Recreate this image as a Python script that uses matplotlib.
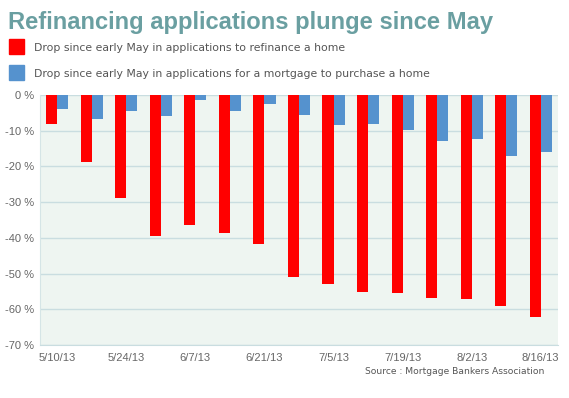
import matplotlib
matplotlib.use("Agg")
import matplotlib.pyplot as plt
import numpy as np

dates = ["5/10/13", "5/17/13", "5/24/13", "5/31/13", "6/7/13", "6/14/13", "6/21/13", "6/28/13",
         "7/5/13", "7/12/13", "7/19/13", "7/26/13", "8/2/13", "8/9/13", "8/16/13"]
refinance = [-8.0, -18.8, -28.8, -39.5, -36.4, -38.6, -41.8, -50.9, -53.0, -55.1, -55.3, -56.9, -57.0, -59.0, -62.1]
purchase = [-3.9, -6.8, -4.4, -5.9, -1.5, -4.6, -2.5, -5.5, -8.5, -8.0, -9.9, -13.0, -12.3, -17.1, -16.0]
yticks = [0, -10, -20, -30, -40, -50, -60, -70]
title = "Refinancing applications plunge since May"
legend_labels = ["Drop since early May in applications to refinance a home",
                 "Drop since early May in applications for a mortgage to purchase a home"]
source = "Source : Mortgage Bankers Association"

RED = "#FF0000"
BLUE = "#5592CE"

fig = plt.figure(figsize=(5.69, 3.98), dpi=100)
ax = fig.add_axes([40/569, 1-345/398, 518/569, 250/398])
ax.set_facecolor("#EEF5F1")

x = np.arange(len(dates))
w = 0.32
ax.bar(x - w/2, refinance, width=w, color=RED, zorder=3)
ax.bar(x + w/2, purchase, width=w, color=BLUE, zorder=3)

ax.set_xlim(-0.5, len(dates) - 0.5)
ax.set_ylim(-70, 0)
ax.set_yticks(yticks)
ax.set_yticklabels([f"{t} %" for t in yticks], fontfamily="Liberation Sans", fontsize=8.0, color="#666666")
ax.set_xticks(x[::2])
ax.set_xticklabels(dates[::2], fontfamily="Liberation Sans", fontsize=8.0, color="#666666")
ax.tick_params(axis="both", length=0)
ax.tick_params(axis="y", pad=4.5)
ax.tick_params(axis="x", pad=5.5)
ax.grid(axis="y", color="#C9DDE0", linewidth=1, zorder=1)
for s in ["top", "right"]:
    ax.spines[s].set_visible(False)
ax.spines["left"].set_color("#D5E5E6")
ax.spines["bottom"].set_color("#C9DDE0")

fig.text(8/569, 1-23/398, title, fontfamily="Liberation Sans", fontweight="bold",
         fontsize=17.1, color="#6A9FA1", va="center", ha="left")

for i, (lab, col) in enumerate(zip(legend_labels, [RED, BLUE])):
    yc = 46.3 + i * 26
    fig.patches.append(plt.Rectangle((9/569, 1-(yc+7.5)/398), 15/569, 15/398,
                                     transform=fig.transFigure, color=col))
    fig.text(34.3/569, 1-(yc+1.5)/398, lab, fontfamily="DejaVu Sans", fontsize=7.8,
             color="#555555", va="center", ha="left")

fig.text(544/569, 1-371/398, source, fontfamily="DejaVu Sans", fontsize=6.55,
         color="#555555", va="center", ha="right")

fig.savefig("out.png", dpi=100, facecolor="white")
